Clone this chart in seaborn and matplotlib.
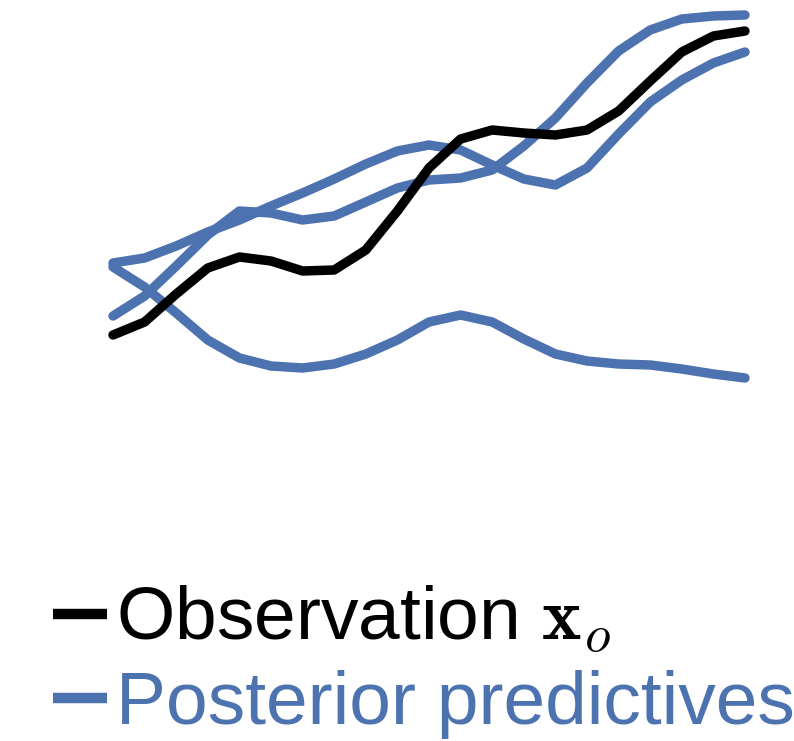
import matplotlib
matplotlib.use("Agg")
import matplotlib.pyplot as plt
import seaborn as sns
import numpy as np
from matplotlib.lines import Line2D

sns.set_theme(style="white")
plt.rcParams["font.family"] = ["Liberation Sans", "DejaVu Sans"]
plt.rcParams["mathtext.fontset"] = "cm"

BLUE = "#4C72B0"

# time grid shared by every trace
t = np.arange(21)

observation = [0.65, 0.78, 1.06, 1.32, 1.43, 1.39, 1.29, 1.30, 1.50, 1.89, 2.32,
               2.61, 2.70, 2.67, 2.65, 2.70, 2.89, 3.19, 3.48, 3.64, 3.69]

predictive_a = [1.33, 1.13, 0.87, 0.60, 0.42, 0.34, 0.32, 0.36, 0.46, 0.60, 0.78,
                0.85, 0.78, 0.61, 0.46, 0.39, 0.36, 0.35, 0.31, 0.26, 0.22]
predictive_b = [1.37, 1.42, 1.54, 1.68, 1.80, 1.94, 2.07, 2.21, 2.36, 2.49, 2.55,
                2.50, 2.35, 2.21, 2.15, 2.32, 2.66, 2.98, 3.20, 3.37, 3.48]
predictive_c = [0.84, 1.04, 1.34, 1.65, 1.89, 1.87, 1.80, 1.84, 1.98, 2.12, 2.20,
                2.22, 2.30, 2.54, 2.82, 3.17, 3.49, 3.70, 3.81, 3.84, 3.85]
predictives = [predictive_a, predictive_b, predictive_c]

labels = ["Observation $\\mathbf{x}_o$", "Posterior predictives"]

fig = plt.figure(figsize=(7.94, 7.41), dpi=100)
ax = fig.add_axes([113 / 794, 1 - 400 / 741, 632 / 794, 400 / 741])

lw = 6.8
for series in predictives:
    sns.lineplot(x=t, y=series, ax=ax, color=BLUE, lw=lw,
                 solid_capstyle="round", solid_joinstyle="round", clip_on=False)
sns.lineplot(x=t, y=observation, ax=ax, color="black", lw=lw,
             solid_capstyle="round", solid_joinstyle="round", clip_on=False)

ax.set_xlim(0, 20)
ax.set_ylim(0, 4)
ax.set_axis_off()

handles = [Line2D([], [], color="black", lw=7.5, solid_capstyle="butt"),
           Line2D([], [], color=BLUE, lw=7.5, solid_capstyle="butt")]
leg = fig.legend(handles, labels, loc="upper left",
                 bbox_to_anchor=(53 / 794, 1 - 584 / 741),
                 frameon=False, fontsize=54, handlelength=0.72,
                 handletextpad=0.12, labelspacing=0.19, borderpad=0,
                 borderaxespad=0)
for txt, col in zip(leg.get_texts(), ["black", BLUE]):
    txt.set_color(col)

fig.savefig("out.png", dpi=100, facecolor="white")
